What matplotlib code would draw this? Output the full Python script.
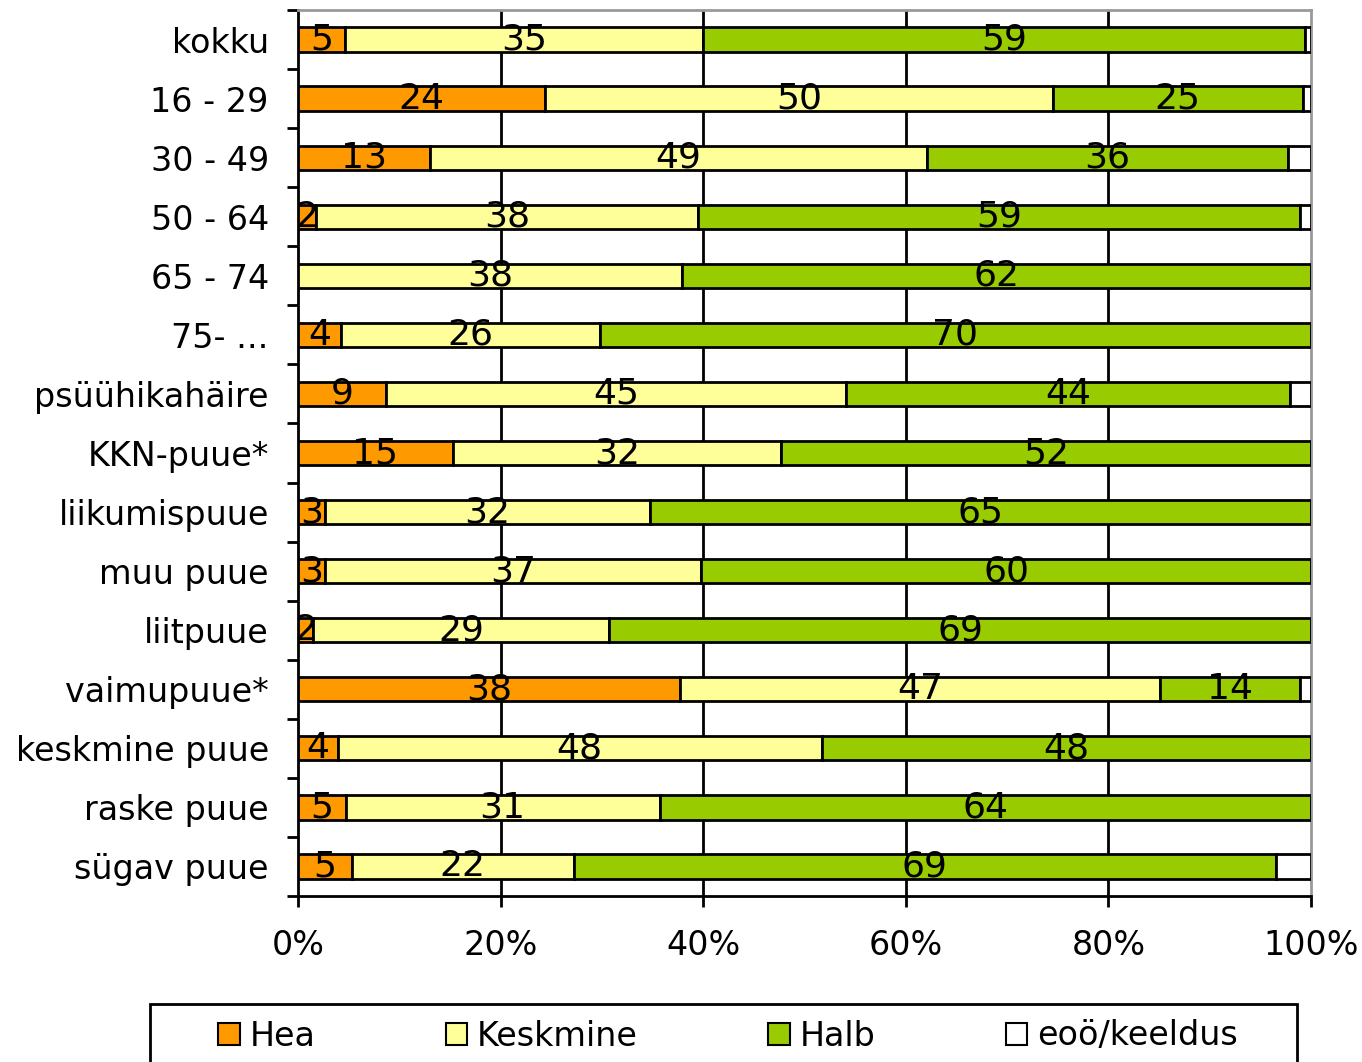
import matplotlib
matplotlib.use("Agg")
import matplotlib.pyplot as plt
import numpy as np
from matplotlib.patches import Patch, Rectangle

categories = ["kokku", "16 - 29", "30 - 49", "50 - 64", "65 - 74", "75- ...",
              "psüühikahäire", "KKN-puue*", "liikumispuue", "muu puue",
              "liitpuue", "vaimupuue*", "keskmine puue", "raske puue", "sügav puue"]
series_names = ["Hea", "Keskmine", "Halb", "eoö/keeldus"]
hea      = [4.6, 24.4, 13.0, 1.8, 0.0, 4.2, 8.7, 15.3, 2.7, 2.7, 1.5, 37.7, 3.9, 4.7, 5.3]
keskmine = [35.4, 50.1, 49.1, 37.7, 37.9, 25.6, 45.4, 32.4, 32.0, 37.1, 29.2, 47.4, 47.8, 31.0, 21.9]
halb     = [59.4, 24.7, 35.6, 59.4, 62.1, 70.2, 43.8, 52.3, 65.3, 60.2, 69.3, 13.8, 48.3, 64.3, 69.3]
eoo      = [0.6, 0.8, 2.3, 1.1, 0.0, 0.0, 2.1, 0.0, 0.0, 0.0, 0.0, 1.1, 0.0, 0.0, 3.5]
colors = ["#FF9900", "#FFFF99", "#99CC00", "#FFFFFF"]
xticks = [0, 20, 40, 60, 80, 100]
xticklabels = ["0%", "20%", "40%", "60%", "80%", "100%"]

FS = 24
FS_LBL = 26
fig = plt.figure(figsize=(13.62, 10.62), dpi=100)
ax = fig.add_axes([298/1362, 1-896/1062, (1311-298)/1362, (896-10)/1062])

n = len(categories)
y = np.arange(n)
data = [hea, keskmine, halb, eoo]
left = np.zeros(n)
for k, (vals, col) in enumerate(zip(data, colors)):
    vals = np.array(vals)
    ax.barh(y, vals, left=left, height=0.41, color=col, edgecolor="black",
            linewidth=2, zorder=3)
    if k < 3:
        for i, v in enumerate(vals):
            if v > 0:
                ax.text(left[i] + v/2, y[i], f"{int(round(v))}", ha="center",
                        va="center", fontsize=FS_LBL, color="black", zorder=4)
    left += vals

ax.set_xlim(0, 100)
ax.set_ylim(n - 0.5, -0.5)
ax.set_xticks(xticks)
ax.set_xticklabels(xticklabels, fontsize=FS)
ax.set_yticks(y)
ax.set_yticklabels(categories, fontsize=FS)
ax.set_yticks(np.arange(-0.5, n, 1), minor=True)
ax.tick_params(axis="y", which="major", length=0, pad=21)
ax.tick_params(axis="y", which="minor", length=8, width=2, direction="out")
ax.tick_params(axis="x", which="major", length=8, width=2, direction="out", pad=16)
for xv in xticks[1:-1]:
    ax.axvline(xv, color="black", linewidth=2, zorder=1)
ax.spines["left"].set_linewidth(2)
ax.spines["bottom"].set_linewidth(2)
ax.spines["top"].set_color("#999999")
ax.spines["right"].set_color("#999999")
ax.spines["top"].set_linewidth(2)
ax.spines["right"].set_linewidth(2)

# legend frame (extends past the bottom edge, as in the reference)
fig.patches.append(Rectangle((150/1362, -0.05), (1297-150)/1362, 0.05 + (1062-1004)/1062,
                             transform=fig.transFigure, facecolor="white",
                             edgecolor="black", linewidth=2))
handles = [Patch(facecolor=c, edgecolor="black", linewidth=1.5) for c in colors]
leg = fig.legend(handles, series_names, loc="center",
                 bbox_to_anchor=(728/1362, 1-1036/1062),
                 ncol=4, fontsize=FS, frameon=False,
                 handlelength=0.65, handleheight=0.65,
                 handletextpad=0.3, columnspacing=3.9, borderpad=0, borderaxespad=0)

fig.savefig("out.png", dpi=100)
